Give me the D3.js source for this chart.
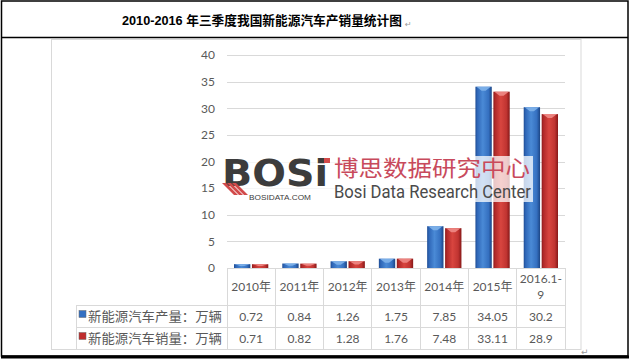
<!DOCTYPE html>
<html><head><meta charset="utf-8">
<script src="https://cdn.jsdelivr.net/npm/d3@7"></script>
<style>body{margin:0;background:#fff}svg{display:block}</style>
</head><body>
<script>
const title = "2010-2016 年三季度我国新能源汽车产销量统计图";
const categories = ["2010年","2011年","2012年","2013年","2014年","2015年","2016.1-9"];
const seriesNames = ["新能源汽车产量：万辆","新能源汽车销量：万辆"];
const production = [0.72,0.84,1.26,1.75,7.85,34.05,30.2];
const sales = [0.71,0.82,1.28,1.76,7.48,33.11,28.9];
const yTicks = [0,5,10,15,20,25,30,35,40];

const W=630,H=361;
const svg=d3.select("body").append("svg").attr("width",W).attr("height",H);
const defs=svg.append("defs");
function grad(id,stops){
  const g=defs.append("linearGradient").attr("id",id).attr("x1","0").attr("x2","1").attr("y1","0").attr("y2","0");
  stops.forEach(s=>g.append("stop").attr("offset",s[0]).attr("stop-color",s[1]));
}
grad("gBlue",[[0,"#1f4d94"],[0.12,"#2f67b8"],[0.45,"#4a8ad6"],[0.8,"#3570c0"],[1,"#1c4585"]]);
grad("gRed",[[0,"#8e1b1b"],[0.12,"#b22a2a"],[0.45,"#d8453f"],[0.8,"#c03431"],[1,"#861818"]]);
const fills=["url(#gBlue)","url(#gRed)"];
const caps=["#7fb2ea","#ee8a86"];
const iconCol=["#3470c2","#c02c2c"];

const series=[production,sales];
const FONT="Lato, 'Noto Sans CJK SC', sans-serif";
const CJK="'Noto Sans CJK SC', sans-serif";

// outer frame
svg.append("rect").attr("x",1.5).attr("y",1).attr("width",626.5).attr("height",355).attr("fill","none").attr("stroke","#000").attr("stroke-width",1.5);
svg.append("line").attr("x1",1.5).attr("x2",628).attr("y1",37.5).attr("y2",37.5).attr("stroke","#000").attr("stroke-width",1.5);
svg.append("line").attr("x1",1).attr("x2",629).attr("y1",357).attr("y2",357).attr("stroke","#000").attr("stroke-width",3);

// title: size chosen so its natural width is ~280px
const tt=svg.append("text").attr("x",122).attr("y",25)
  .attr("font-family","'Liberation Sans', 'Noto Sans CJK SC', sans-serif")
  .attr("font-weight","bold").attr("font-size",13.5).attr("fill","#000").text(title);
let tw=tt.node().getComputedTextLength();
const fs=13.5*280/tw;
tt.attr("font-size",fs);
tw=tt.node().getComputedTextLength();
svg.append("text").attr("x",122+tw+3).attr("y",27).attr("font-size",8).attr("fill","#999").attr("font-family","DejaVu Sans").text("↵");

// chart frame
svg.append("rect").attr("x",51.5).attr("y",39.5).attr("width",529.5).attr("height",310).attr("fill","#fff").attr("stroke","#d9d9d9");

const x=d3.scaleBand().domain(categories).range([227,565]).padding(0);
const xs=d3.scaleBand().domain([0,1]).range([7,x.bandwidth()-7]).paddingInner(0.09);
const y=d3.scaleLinear().domain([0,40]).range([268,55]);

// gridlines
svg.append("g").selectAll("line").data(yTicks.filter(d=>d>0)).join("line")
  .attr("x1",227).attr("x2",565).attr("y1",d=>Math.round(y(d))+0.5).attr("y2",d=>Math.round(y(d))+0.5)
  .attr("stroke","#d9d9d9");
// y axis
const ya=svg.append("g").attr("transform","translate(227,0)")
  .call(d3.axisLeft(y).tickValues(yTicks).tickSize(0).tickPadding(12));
ya.select(".domain").remove();
ya.selectAll("text").attr("font-family",FONT).attr("font-size",12).attr("fill","#595959");

// bars
series.forEach((vals,si)=>{
  const g=svg.append("g");
  g.selectAll("rect").data(vals).join("rect")
    .attr("x",(d,i)=>x(categories[i])+xs(si)).attr("width",xs.bandwidth())
    .attr("y",d=>y(d)).attr("height",d=>y(0)-y(d)).attr("fill",fills[si]);
  g.selectAll("path").data(vals).join("path")
    .attr("d",(d,i)=>{const x0=x(categories[i])+xs(si),w=xs.bandwidth(),yt=y(d);
      const h=Math.min(4,(y(0)-yt)/2);
      return `M${x0+1},${yt}L${x0+w-1},${yt}L${x0+w/2+2},${yt+h}L${x0+w/2-2},${yt+h}Z`;})
    .attr("fill",caps[si]).attr("opacity",0.9);
});

// watermark
const wm=svg.append("g");
wm.append("rect").attr("x",222).attr("y",156).attr("width",311).attr("height",46).attr("fill","#fff").attr("opacity",0.75);
wm.append("text").attr("x",222).attr("y",186).attr("font-family","'DejaVu Sans', sans-serif").attr("font-weight","bold")
  .attr("font-size",38).attr("fill","#3c3c3c").attr("textLength",106).attr("lengthAdjust","spacingAndGlyphs").text("BOSi");
[0,5,10].forEach(o=>{
  wm.append("path").attr("d",`M${222+o},${183}L${226+o},${183}L${238+o},${195}L${234+o},${195}Z`).attr("fill","#d24a4a");
});
wm.append("rect").attr("x",324).attr("y",158).attr("width",6).attr("height",5).attr("fill","#d24a4a");
wm.append("text").attr("x",249).attr("y",200).attr("font-family","'Liberation Sans Narrow','Liberation Sans',sans-serif")
  .attr("font-size",7).attr("fill","#3c3c3c").attr("textLength",62).attr("lengthAdjust","spacingAndGlyphs").text("BOSIDATA.COM");
wm.append("text").attr("x",334).attr("y",176).attr("font-family",CJK).attr("font-weight",400)
  .attr("font-size",22).attr("fill","#c84a5c").attr("textLength",196).attr("lengthAdjust","spacingAndGlyphs").text("博思数据研究中心");
wm.append("text").attr("x",334).attr("y",198).attr("font-family","'Liberation Sans Narrow','Roboto',sans-serif")
  .attr("font-size",19).attr("fill","#4a4a4a").attr("textLength",197).attr("lengthAdjust","spacingAndGlyphs").text("Bosi Data Research Center");

// data table
const tb=svg.append("g").attr("stroke","#d9d9d9").attr("shape-rendering","crispEdges");
const rowY=[268,305,327,349];
tb.append("line").attr("x1",227).attr("x2",565).attr("y1",268).attr("y2",268);
[305,327,349].forEach(v=>tb.append("line").attr("x1",76).attr("x2",565).attr("y1",v).attr("y2",v));
tb.append("line").attr("x1",76).attr("x2",76).attr("y1",305).attr("y2",349);
categories.concat(["_end"]).forEach((c,i)=>{
  const xv= i<categories.length ? x(c) : 565;
  tb.append("line").attr("x1",xv).attr("x2",xv).attr("y1",268).attr("y2",349);
});
// header labels
const hd=svg.append("g").attr("font-family",FONT).attr("font-size",12).attr("fill","#595959").attr("text-anchor","middle");
categories.forEach(c=>{
  const cx=x(c)+x.bandwidth()/2;
  if(c.length>7){
    const k=c.indexOf("-")+1;
    hd.append("text").attr("x",cx).attr("y",283).text(c.slice(0,k));
    hd.append("text").attr("x",cx).attr("y",299).text(c.slice(k));
  } else hd.append("text").attr("x",cx).attr("y",291).text(c);
});
series.forEach((vals,si)=>{
  const cy=(rowY[si+1]+rowY[si+2])/2+4.5;
  vals.forEach((v,i)=>hd.append("text").attr("x",x(categories[i])+x.bandwidth()/2).attr("y",cy).text(String(v)));
  svg.append("rect").attr("x",79).attr("y",cy-10).attr("width",7).attr("height",7).attr("fill",iconCol[si]).attr("stroke","#6a6a6a").attr("stroke-width",0.5);
  svg.append("text").attr("x",88).attr("y",cy).attr("font-family",CJK).attr("font-size",13).attr("fill","#595959")
    .attr("textLength",134).attr("lengthAdjust","spacingAndGlyphs").text(seriesNames[si]);
});
svg.append("text").attr("x",581).attr("y",355).attr("font-size",9).attr("fill","#999").attr("font-family","DejaVu Sans").text("↵");
</script>
</body></html>
